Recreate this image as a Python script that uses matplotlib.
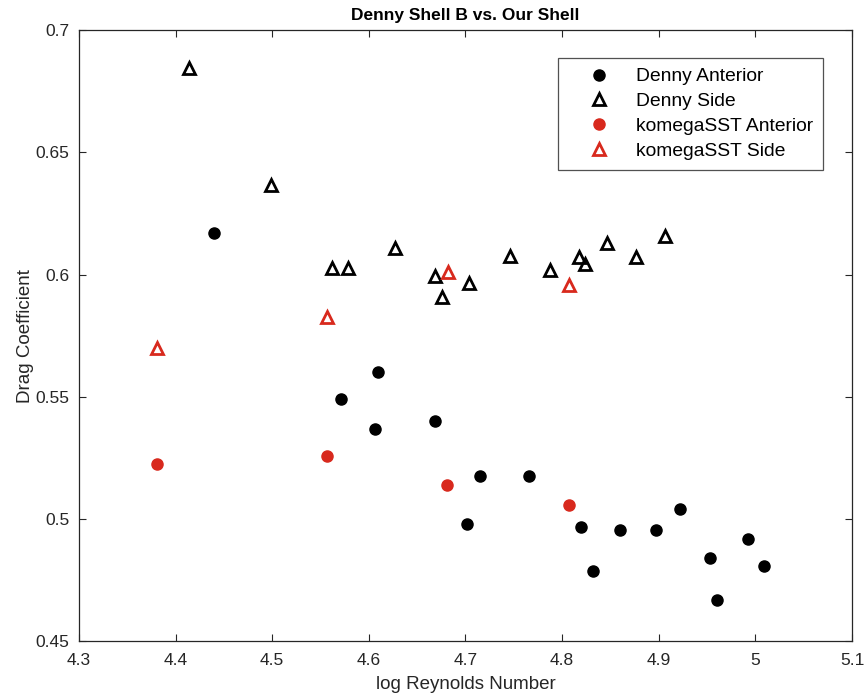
import matplotlib.pyplot as plt
from matplotlib.ticker import FuncFormatter

plt.rcParams['font.family'] = ['Liberation Sans', 'DejaVu Sans']

# Denny shell B, anterior orientation
denny_ant_x = [4.440, 4.571, 4.606, 4.609, 4.668, 4.702, 4.715, 4.766, 4.820,
               4.832, 4.860, 4.897, 4.922, 4.953, 4.960, 4.992, 5.009]
denny_ant_y = [0.617, 0.549, 0.537, 0.560, 0.540, 0.498, 0.5175, 0.5175, 0.497,
               0.479, 0.4955, 0.4955, 0.504, 0.484, 0.467, 0.492, 0.481]

# Denny shell B, side orientation
denny_side_x = [4.414, 4.499, 4.562, 4.578, 4.627, 4.668, 4.676, 4.704, 4.746,
                4.788, 4.817, 4.824, 4.846, 4.876, 4.907]
denny_side_y = [0.6845, 0.6367, 0.6027, 0.6027, 0.6107, 0.5995, 0.591, 0.5965,
                0.6075, 0.6017, 0.607, 0.6044, 0.613, 0.607, 0.6157]

# our shell, k-omega SST runs
sst_ant_x = [4.381, 4.557, 4.681, 4.807]
sst_ant_y = [0.5225, 0.526, 0.5138, 0.5057]
sst_side_x = [4.381, 4.557, 4.682, 4.807]
sst_side_y = [0.570, 0.5827, 0.6009, 0.5957]

red = '#d8291d'

fig = plt.figure(figsize=(8.67, 6.98), dpi=100)
ax = fig.add_axes([0.091, 0.081, 0.8917, 0.876])

ax.plot(denny_ant_x, denny_ant_y, 'o', color='k', markersize=8, label='Denny Anterior')
ax.plot(denny_side_x, denny_side_y, '^', color='k', markerfacecolor='none',
        markersize=9, markeredgewidth=2, label='Denny Side')
ax.plot(sst_ant_x, sst_ant_y, 'o', color=red, markersize=8, label='komegaSST Anterior')
ax.plot(sst_side_x, sst_side_y, '^', color=red, markerfacecolor='none',
        markersize=9, markeredgewidth=2, label='komegaSST Side')

ax.set_xlim(4.3, 5.1)
ax.set_ylim(0.45, 0.7)
ax.set_xticks([4.3, 4.4, 4.5, 4.6, 4.7, 4.8, 4.9, 5.0, 5.1])
ax.set_yticks([0.45, 0.5, 0.55, 0.6, 0.65, 0.7])
ax.xaxis.set_major_formatter(FuncFormatter(lambda v, p: '%g' % round(v, 2)))
ax.yaxis.set_major_formatter(FuncFormatter(lambda v, p: '%g' % round(v, 2)))

gray = '#262626'
for s in ax.spines.values():
    s.set_color(gray)
    s.set_linewidth(0.9)
ax.tick_params(direction='in', top=True, right=True, length=5, width=0.8,
               colors=gray, labelsize=12.5, labelcolor='#262626')
ax.tick_params(axis='x', pad=8)
ax.tick_params(axis='y', pad=7)

ax.set_xlabel('log Reynolds Number', fontsize=13.5, color='#262626', labelpad=6)
ax.set_ylabel('Drag Coefficient', fontsize=13.5, color='#262626', labelpad=1)
ax.set_title('Denny Shell B vs. Our Shell', fontsize=12.5, fontweight='bold', pad=7)

leg = ax.legend(loc='upper right', bbox_to_anchor=(0.962, 0.954), borderaxespad=0,
                fontsize=13.9, frameon=True, fancybox=False, borderpad=0.5,
                handletextpad=0.29, labelspacing=0.38, handlelength=3.25)
leg.get_frame().set_edgecolor(gray)
leg.get_frame().set_linewidth(0.9)

fig.savefig('out.png', dpi=100)
